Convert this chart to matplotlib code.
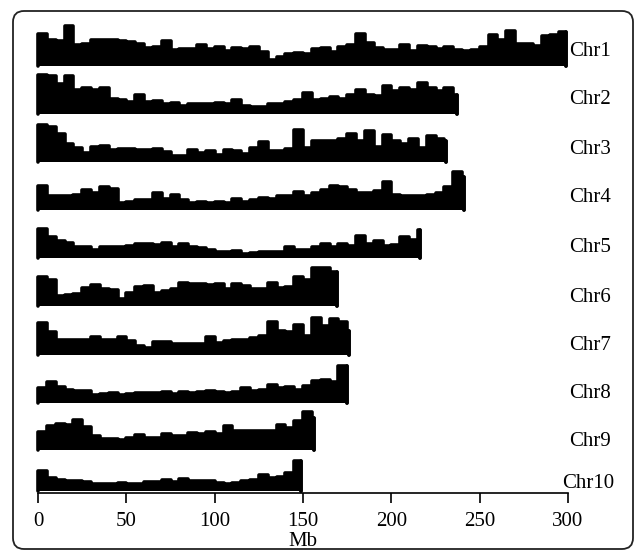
import numpy as np
import matplotlib
matplotlib.use("Agg")
import matplotlib.pyplot as plt
from matplotlib.patches import FancyBboxPatch
from matplotlib.transforms import IdentityTransform

# ---------------- data (density per 5 Mb bin) ----------------
BIN = 5
chrom_names = ["Chr1", "Chr2", "Chr3", "Chr4", "Chr5",
               "Chr6", "Chr7", "Chr8", "Chr9", "Chr10"]
chrom_lengths = [299, 237, 231, 241, 216, 169, 176, 175, 156, 149]

chr1 = [33, 27, 26, 41, 22, 23, 27, 27, 27, 26, 25, 23, 19, 20, 26, 17, 18, 18, 22, 18,
        20, 16, 19, 18, 20, 15, 7, 10, 13, 14, 13, 18, 19, 15, 20, 22, 33, 24, 19, 17,
        17, 22, 16, 21, 20, 18, 20, 17, 16, 17, 20, 32, 27, 36, 23, 23, 21, 31, 32, 35]
chr2 = [40, 39, 31, 39, 25, 27, 25, 27, 16, 15, 13, 20, 13, 14, 11, 12, 9, 11, 11, 11,
        12, 11, 15, 9, 8, 8, 11, 11, 13, 15, 22, 15, 16, 18, 16, 20, 25, 20, 19, 29,
        24, 27, 25, 32, 27, 24, 27, 20]
chr3 = [38, 36, 29, 19, 15, 10, 16, 17, 13, 14, 14, 13, 13, 14, 11, 7, 7, 13, 10, 12,
        8, 13, 12, 9, 15, 21, 12, 12, 14, 33, 15, 22, 22, 22, 24, 29, 22, 32, 16, 28,
        22, 19, 24, 15, 27, 24, 22]
chr4 = [25, 15, 15, 15, 16, 21, 18, 24, 22, 8, 9, 11, 11, 18, 12, 16, 11, 8, 9, 8,
        9, 8, 12, 9, 11, 13, 12, 15, 15, 19, 15, 18, 21, 25, 24, 21, 18, 18, 20, 29,
        16, 15, 15, 15, 16, 18, 24, 39, 34]
chr5 = [30, 22, 18, 16, 12, 12, 9, 12, 12, 12, 13, 15, 15, 14, 16, 12, 15, 12, 11, 9,
        7, 7, 8, 5, 6, 7, 7, 7, 12, 9, 9, 12, 15, 12, 15, 13, 23, 15, 18, 13,
        14, 22, 19, 29]
chr6 = [30, 27, 11, 12, 13, 19, 22, 18, 17, 8, 14, 20, 21, 14, 16, 18, 24, 23, 23, 22,
        23, 18, 23, 21, 18, 18, 24, 19, 20, 30, 27, 39, 39, 35]
chr7 = [33, 24, 16, 16, 16, 16, 19, 16, 16, 19, 15, 10, 8, 14, 14, 12, 12, 12, 12, 19,
        13, 15, 16, 16, 18, 20, 34, 25, 24, 31, 20, 38, 30, 37, 34, 25]
chr8 = [16, 22, 17, 14, 13, 13, 9, 10, 11, 9, 10, 11, 11, 11, 12, 10, 12, 11, 12, 13,
        12, 11, 12, 16, 13, 14, 19, 16, 17, 14, 18, 23, 24, 22, 38, 15]
chr9 = [19, 25, 27, 26, 31, 24, 15, 12, 12, 11, 13, 16, 13, 13, 17, 15, 15, 18, 17, 19,
        17, 25, 20, 20, 20, 20, 20, 26, 23, 30, 39, 33]
chr10 = [21, 14, 12, 11, 11, 10, 8, 8, 8, 9, 8, 8, 10, 10, 12, 10, 13, 11, 11, 11,
         9, 8, 9, 11, 12, 17, 14, 15, 19, 31]
densities = [chr1, chr2, chr3, chr4, chr5, chr6, chr7, chr8, chr9, chr10]

x_ticks = [0, 50, 100, 150, 200, 250, 300]
x_label = "Mb"

# ---------------- layout ----------------
W, H = 637, 551
fig = plt.figure(figsize=(W / 100, H / 100), dpi=100)
plt.rcParams["font.family"] = ["Liberation Serif", "DejaVu Serif"]
FS = 15

ax_left_px, ax_right_px = 38, 568
ax_top_px, ax_bottom_px = 20, 493
ax = fig.add_axes([ax_left_px / W, 1 - ax_bottom_px / H,
                   (ax_right_px - ax_left_px) / W, (ax_bottom_px - ax_top_px) / H])
ax.set_xlim(0, 300)
ax.set_ylim(0, ax_bottom_px - ax_top_px)
mb_per_px = 300 / (ax_right_px - ax_left_px)

# baselines of each track (pixels from top of image)
base_px = [66, 114, 162, 210, 258, 306, 355, 403, 450, 491]
label_px = [52, 100, 149, 198, 247, 297, 345, 393, 442, 484]

for name, L, dens, bp, lp in zip(chrom_names, chrom_lengths, densities, base_px, label_px):
    v = np.asarray(dens, dtype=float)
    n = len(v)
    edges = np.minimum(np.arange(n + 1) * BIN, L).astype(float)
    keep = np.concatenate([[True], np.diff(edges) > 0])
    edges = edges[keep]
    v = v[keep[1:]]
    base = ax_bottom_px - bp
    y = base + np.append(v, v[-1]) - 1.2
    ax.fill_between(edges, base, y, step="post", facecolor="black",
                    edgecolor="none", linewidth=0, clip_on=False)
    # rounded outline to soften the bin corners
    xs = np.concatenate([[edges[0]], edges, [edges[-1]]])
    ys = np.concatenate([[base], y, [base]])
    ax.step(xs, ys, where="post", color="black", linewidth=2.6,
            solid_joinstyle="round", solid_capstyle="round", clip_on=False)
    ax.plot([edges[-1], edges[-1]], [base, y[-1]], color="black", linewidth=2.6,
            solid_capstyle="round", clip_on=False)
    tx = (562 if name == "Chr10" else 569) - ax_left_px
    ax.text(tx * mb_per_px, ax_bottom_px - lp, name, ha="left", va="center",
            fontsize=FS, clip_on=False)

for s in ["top", "right", "left"]:
    ax.spines[s].set_visible(False)
ax.spines["bottom"].set_linewidth(1.2)
ax.spines["bottom"].set_bounds(0, 300)
ax.set_yticks([])
ax.set_xticks(x_ticks)
ax.set_xticklabels([str(t) for t in x_ticks])
ax.tick_params(axis="x", direction="out", length=7, width=1.2, labelsize=FS, pad=6.5)
ax.patch.set_visible(False)

fig.text(303 / W, 1 - 542 / H, x_label, ha="center", va="center", fontsize=FS)

# rounded outer border (pixel coordinates)
border = FancyBboxPatch((13, 2), 620, 538,
                        boxstyle="round,pad=0,rounding_size=11",
                        transform=IdentityTransform(), facecolor="none",
                        edgecolor="#222222", linewidth=1.3)
fig.patches.append(border)

fig.savefig("out.png", dpi=100)
